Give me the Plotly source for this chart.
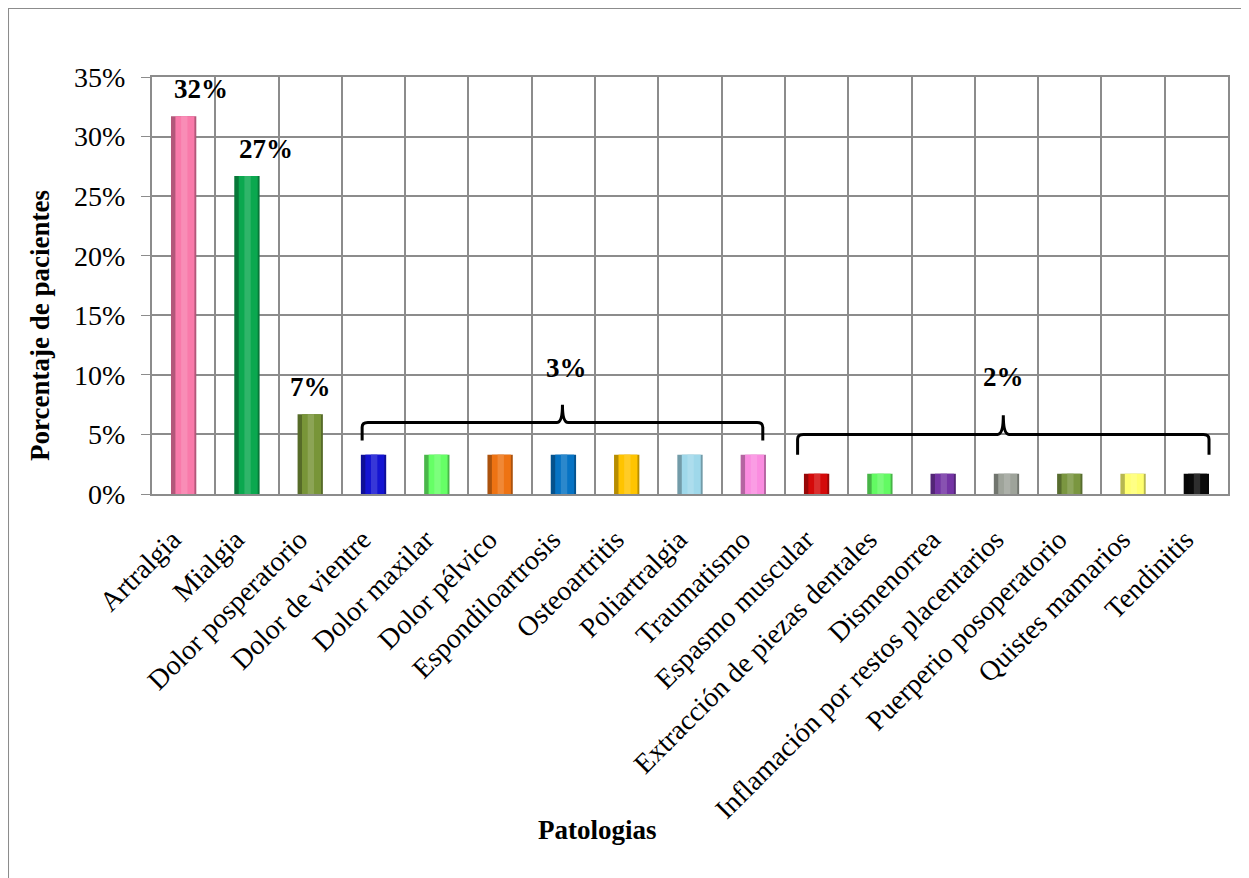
import plotly.graph_objects as go

# Datos: 60 pacientes en total
categorias = ["Artralgia", "Mialgia", "Dolor posperatorio", "Dolor de vientre",
              "Dolor maxilar", "Dolor pélvico", "Espondiloartrosis", "Osteoartritis",
              "Poliartralgia", "Traumatismo", "Espasmo muscular",
              "Extracción de piezas dentales", "Dismenorrea",
              "Inflamación por restos placentarios", "Puerperio posoperatorio",
              "Quistes mamarios", "Tendinitis"]
porcentajes = [0.317, 0.267, 0.067, 0.033, 0.033, 0.033, 0.033, 0.033, 0.033,
               0.033, 0.017, 0.017, 0.017, 0.017, 0.017, 0.017, 0.017]
colores = ["#F97AAA", "#0BA84F", "#789538", "#1414D2", "#66FF66", "#EE7313",
           "#0673C4", "#FFC400", "#9FD8EA", "#FA8CE0", "#D40A0A", "#63FA63",
           "#7434A4", "#9EA39A", "#7A9640", "#FFFF70", "#0A0A0A"]
etiquetas = ["32%", "27%", "7%"]

serif = "Liberation Serif, Times New Roman, serif"


def tono(hexcol, f):
    # oscurece (f<1) o aclara (f>1) un color
    r, g, b = (int(hexcol[i:i + 2], 16) for i in (1, 3, 5))
    if f < 1:
        r, g, b = (int(c * f) for c in (r, g, b))
    else:
        r, g, b = (int(c + (255 - c) * (f - 1)) for c in (r, g, b))
    return f"rgb({r},{g},{b})"


fig = go.Figure()
# cilindro: borde oscuro, cuerpo y brillo
fig.add_trace(go.Bar(x=categorias, y=porcentajes, width=0.4,
                     marker=dict(color=[tono(c, 0.72) for c in colores], line=dict(width=0)),
                     hoverinfo="x+y"))
fig.add_trace(go.Bar(x=categorias, y=porcentajes, width=0.3, offset=-0.13,
                     marker=dict(color=colores, line=dict(width=0)), hoverinfo="skip"))
fig.add_trace(go.Bar(x=categorias, y=porcentajes, width=0.1, offset=-0.04,
                     marker=dict(color=[tono(c, 1.15) for c in colores], line=dict(width=0)),
                     hoverinfo="skip"))

# etiquetas de las tres primeras barras
for i, t in enumerate(etiquetas):
    fig.add_annotation(x=categorias[i], y=porcentajes[i], text="<b>" + t + "</b>",
                       showarrow=False, yanchor="bottom", yshift=10,
                       xshift=[17, 19, 0][i], font=dict(size=27, color="black", family=serif))


# llaves para los grupos de 3% y 2%
def llave(a, b, y_fin, y_h, y_pico):
    m = (a + b) / 2
    dx = 0.09
    r = 0.004
    return (f"M {a},{y_fin} L {a},{y_h - r} Q {a},{y_h} {a + dx},{y_h} "
            f"L {m - dx},{y_h} Q {m},{y_h} {m},{y_pico} "
            f"Q {m},{y_h} {m + dx},{y_h} L {b - dx},{y_h} "
            f"Q {b},{y_h} {b},{y_h - r} L {b},{y_fin}")


fig.add_shape(type="path", path=llave(2.82, 9.15, 0.045, 0.060, 0.075),
              xref="x", yref="y", line=dict(color="black", width=3))
fig.add_shape(type="path", path=llave(9.7, 16.2, 0.033, 0.050, 0.066),
              xref="x", yref="y", line=dict(color="black", width=3))
fig.add_annotation(x=6.05, y=0.106, text="<b>3%</b>", showarrow=False,
                   font=dict(size=27, color="black", family=serif))
fig.add_annotation(x=12.95, y=0.098, text="<b>2%</b>", showarrow=False,
                   font=dict(size=27, color="black", family=serif))

# títulos de ejes
fig.add_annotation(x=-0.12, y=0.405, xref="paper", yref="paper", text="<b>Porcentaje de pacientes</b>",
                   textangle=-90, showarrow=False, font=dict(size=27, color="black", family=serif))
fig.add_annotation(x=0.414, y=-0.846, xref="paper", yref="paper", text="<b>Patologias</b>",
                   showarrow=False, font=dict(size=27, color="black", family=serif))

# marco exterior
fig.add_shape(type="rect", xref="paper", yref="paper", x0=-0.1338, x1=1.03, y0=-0.97, y1=1.1655,
              line=dict(color="#8C8C8C", width=2), layer="below")

fig.update_xaxes(type="category", tickson="boundaries", showgrid=True, gridcolor="#8C8C8C",
                 gridwidth=2, showline=True, linecolor="#8C8C8C", linewidth=2, mirror=True,
                 tickangle=-45, ticks="outside", ticklen=14, tickcolor="rgba(0,0,0,0)",
                 ticklabelstandoff=16, ticklabelshift=-11,
                 tickfont=dict(size=28, color="black", family=serif))
fig.update_yaxes(range=[0, 0.35], dtick=0.05, tickformat=".0%", showgrid=True, gridcolor="#8C8C8C",
                 gridwidth=2, showline=True, linecolor="#8C8C8C", linewidth=2, mirror=True,
                 ticks="outside", ticklen=9, tickcolor="#8C8C8C", zeroline=False,
                 ticklabelstandoff=10,
                 tickfont=dict(size=28, color="black", family=serif))
fig.update_layout(width=1249, height=878, margin=dict(l=144, r=29, t=69, b=392, autoexpand=False),
                  plot_bgcolor="white", paper_bgcolor="white", showlegend=False,
                  barmode="overlay")

fig.write_html("out.html")
